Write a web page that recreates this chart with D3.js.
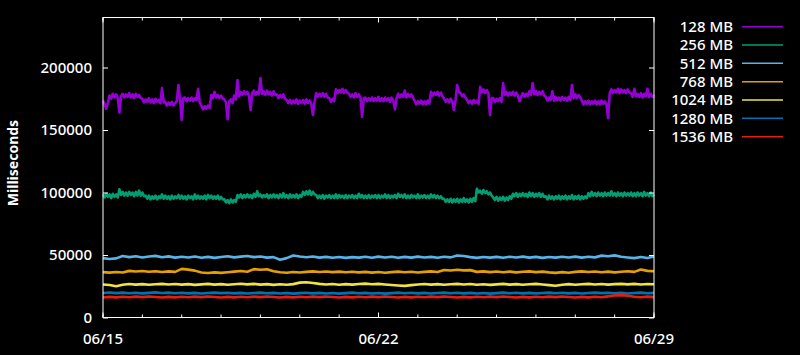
<!DOCTYPE html>
<html><head><meta charset="utf-8">
<script src="https://cdn.jsdelivr.net/npm/d3@7"></script>
<style>
html,body{margin:0;padding:0;background:#000;}
svg{display:block;}
text{font-family:"Noto Sans","DejaVu Sans",sans-serif;fill:#fff;}
</style></head>
<body><svg id="chart" width="800" height="355"></svg>
<script>
// ---- data (values in thousands of milliseconds) ----
const startDate = "2023-06-15T00:00:00Z";
const endDate = "2023-06-29T00:00:00Z";
const fineStepHours = 1;   // sampling of 128 MB / 256 MB series
const coarseStepHours = 4; // sampling of the other series
const seriesNames = ["128 MB","256 MB","512 MB","768 MB","1024 MB","1280 MB","1536 MB"];
const seriesColors = ["#9400d3","#009e73","#56b4e9","#e69f00","#f0e442","#0072b2","#e51e10"];
const yTickValues = [0,50000,100000,150000,200000];
const xTickLabels = ["06/15","06/22","06/29"];

const mb128 = [
173.5,170.5,167.0,172.0,177.5,175.0,179.0,176.0,178.5,175.5,164.0,177.0,179.0,176.0,178.5,176.5,179.5,176.0,178.5,175.5,
179.0,176.5,178.0,175.5,175.0,172.0,174.5,172.5,175.5,172.0,174.5,171.5,175.0,172.5,174.0,171.5,183.5,172.0,172.5,169.5,
172.0,170.0,172.5,169.5,171.5,173.0,186.0,174.5,158.0,175.5,176.0,173.0,175.5,173.5,176.0,173.0,175.5,174.0,183.0,172.0,
169.5,166.5,169.0,167.0,169.5,167.5,178.0,175.5,180.5,176.0,178.0,175.5,177.5,175.0,174.5,172.0,158.5,173.0,174.5,171.5,
177.5,174.5,190.0,177.0,180.5,178.0,181.0,178.5,180.5,177.5,166.0,179.5,181.5,178.0,180.5,178.5,191.5,179.0,181.0,178.0,
181.5,178.5,180.5,177.5,181.0,178.0,178.5,175.5,178.0,176.0,178.5,175.0,174.0,171.5,174.0,171.0,173.5,171.5,174.5,171.0,
173.5,171.5,174.0,171.0,174.5,171.5,173.5,171.0,162.0,172.5,179.5,176.5,179.0,177.0,179.5,176.5,179.0,176.0,175.5,172.5,
175.0,173.0,182.5,179.5,182.0,180.0,183.0,179.5,182.0,180.0,179.0,176.5,178.5,176.0,179.5,176.5,178.5,176.0,160.5,175.5,
176.0,173.0,175.5,173.5,176.0,173.0,175.5,173.5,176.5,173.0,175.5,173.0,176.0,173.5,175.5,172.5,176.0,173.5,166.5,175.0,
179.0,176.0,178.5,176.5,181.5,176.0,179.0,176.5,178.5,176.0,173.5,170.5,173.0,171.0,173.5,170.5,173.0,170.5,173.5,171.0,
180.5,177.5,180.0,178.0,180.5,177.5,180.0,177.0,175.0,172.5,174.5,172.0,175.0,172.5,166.0,174.0,186.0,180.5,179.5,177.0,
178.5,176.0,174.0,171.5,173.5,171.0,174.0,171.5,173.5,171.0,184.5,180.0,182.5,179.5,182.0,179.5,162.0,175.5,175.5,172.5,
175.0,173.0,175.5,172.5,187.5,178.0,180.5,177.5,180.0,178.0,180.5,177.5,180.0,177.5,173.0,176.5,179.5,176.5,179.0,177.0,
181.0,178.0,187.5,178.5,181.0,178.0,180.5,178.5,181.0,177.5,176.5,173.5,176.0,174.0,181.0,173.5,176.5,174.0,176.0,173.5,
176.5,174.0,176.0,173.5,176.5,174.0,186.0,175.5,178.5,175.5,178.0,176.0,173.5,170.5,173.0,171.0,173.5,170.5,173.0,171.0,
173.5,170.5,173.0,170.5,173.5,171.0,173.0,170.5,159.5,179.5,182.5,179.5,182.0,180.0,183.0,179.5,182.5,180.0,182.0,179.5,
182.5,180.0,179.5,176.5,183.0,177.0,179.0,176.5,179.5,176.0,179.0,177.0,183.0,176.5,179.0,176.5,178.0];

const mb256 = [
98.5,96.0,99.0,96.5,98.5,95.5,99.0,96.5,98.5,96.0,102.5,98.0,100.5,97.5,100.0,97.5,100.5,98.0,100.0,97.0,
100.5,97.5,101.5,97.5,100.0,97.0,97.5,95.0,97.5,94.5,97.0,95.0,97.5,94.5,97.0,95.5,98.5,95.0,97.5,95.0,
97.0,94.5,97.5,95.0,97.0,95.5,98.0,95.0,97.5,95.0,97.0,94.5,97.5,95.5,97.0,94.5,98.5,95.0,97.5,95.0,
97.0,95.0,97.5,94.5,98.0,95.5,97.5,95.0,97.0,95.0,97.5,94.5,96.5,94.5,94.5,92.0,94.0,91.5,94.5,92.0,
94.0,92.5,98.0,96.0,98.5,95.5,98.0,96.0,98.5,96.0,98.0,95.5,99.0,96.5,101.0,97.0,98.5,96.0,98.0,96.5,
98.5,95.5,98.0,96.0,98.5,96.0,98.0,95.5,98.5,96.0,99.5,96.0,98.0,95.5,98.5,96.0,98.0,96.0,98.5,95.5,
98.0,96.5,100.5,98.0,101.0,98.5,101.5,98.0,100.5,98.5,98.0,95.5,97.5,95.5,98.0,95.0,97.5,96.0,98.0,95.5,
97.5,95.5,98.5,95.5,98.0,96.0,97.5,95.5,98.0,95.5,97.5,96.0,98.0,95.5,97.5,95.5,99.0,96.0,98.0,95.5,
97.5,95.5,98.0,95.5,97.5,96.0,98.0,95.5,98.0,95.5,97.5,96.0,98.5,95.5,98.0,95.5,97.5,96.0,98.0,95.5,
99.0,96.5,98.0,96.0,98.5,95.5,97.5,95.5,98.0,96.0,97.5,95.5,98.5,95.5,97.5,96.0,98.0,95.5,97.5,95.5,
98.5,96.0,98.0,95.5,97.5,95.5,97.0,95.0,95.0,92.5,94.5,92.5,95.0,92.0,94.5,92.5,95.0,92.0,94.5,92.5,
95.5,92.5,94.5,92.0,95.0,92.5,95.5,93.0,103.0,100.0,101.5,99.0,102.0,99.5,101.0,98.5,100.0,97.5,96.0,94.0,
96.5,93.5,96.0,94.0,96.5,93.5,96.0,94.0,97.0,95.0,99.0,97.0,99.5,96.5,99.0,97.0,99.5,97.0,99.0,96.5,
100.0,97.0,99.5,96.5,99.0,97.0,99.5,96.5,99.0,96.5,97.0,94.5,97.5,95.0,97.0,94.5,97.0,95.0,97.5,94.5,
97.0,95.0,97.5,94.5,97.0,95.0,98.0,94.5,97.0,95.0,97.5,94.5,97.0,95.0,97.0,95.5,99.5,97.0,100.5,97.5,
99.5,97.0,100.0,97.5,99.5,97.0,100.0,97.5,99.5,97.5,101.0,97.5,99.5,97.0,100.0,97.5,99.5,97.0,100.0,97.5,
99.5,97.5,100.0,97.0,99.5,97.0,100.0,97.5,99.5,97.0,100.5,97.5,99.5,97.0,100.0,97.0,98.5];

const mb512 = [47.5,46.8,47.3,49.2,48.3,49.0,48.0,48.8,49.3,48.2,48.9,47.9,48.6,48.0,48.8,47.8,48.5,47.7,48.4,49.0,
48.1,48.7,49.2,48.3,48.8,47.9,48.3,46.2,47.5,49.6,48.8,48.2,48.8,47.9,48.5,47.8,48.4,47.7,48.3,47.9,
48.6,47.8,48.7,48.0,48.6,47.8,48.5,47.9,48.7,48.0,48.5,47.8,48.6,48.1,49.6,49.2,48.3,47.7,48.4,47.9,
48.5,47.8,48.6,48.0,48.7,47.9,48.5,47.7,48.4,47.9,48.6,48.0,48.7,47.9,48.6,48.1,49.5,49.0,49.7,48.6,
48.0,47.5,48.4,47.6,48.8];

const mb768 = [36.3,35.9,36.4,36.0,37.3,36.8,37.2,36.6,37.0,36.4,36.9,36.5,38.9,38.3,37.5,36.0,35.6,36.1,35.7,36.2,
36.7,37.2,36.6,38.7,38.2,38.6,37.0,36.2,35.8,36.4,36.0,36.5,36.9,36.4,36.8,36.3,36.7,36.2,36.6,36.1,
36.5,35.9,36.4,35.8,36.3,36.7,36.2,36.6,36.0,36.5,36.9,36.4,38.0,37.6,38.2,37.7,37.9,36.5,36.9,36.3,
36.8,36.2,36.7,36.1,36.6,36.9,36.3,36.7,36.1,35.7,36.3,35.8,36.5,36.9,36.4,36.8,36.2,36.7,36.1,36.6,
37.0,36.5,38.4,37.3,37.0];

const mb1024 = [26.4,26.0,25.0,26.2,26.8,26.3,26.7,26.2,26.6,26.9,26.4,26.8,26.3,26.7,26.1,26.5,26.9,26.3,26.7,26.2,
26.6,27.0,26.5,26.9,26.3,26.7,26.1,26.6,26.2,26.7,27.9,28.2,27.6,26.9,26.4,26.8,26.2,26.7,26.3,26.8,
27.1,26.6,26.9,26.4,26.0,25.6,25.3,25.9,26.4,26.8,26.3,26.7,26.2,26.6,26.9,26.4,26.8,26.2,26.6,26.1,
26.5,26.9,26.3,26.7,26.2,26.6,26.9,26.4,25.9,25.4,26.2,26.7,26.2,26.6,26.9,26.4,26.8,26.3,26.7,26.9,
26.5,26.9,26.4,26.8,26.6];

const mb1280 = [19.6,20.0,19.5,19.9,19.4,19.8,19.3,19.7,20.1,19.6,19.9,19.4,19.8,19.3,19.7,19.2,19.6,19.9,19.5,19.8,
19.3,19.7,19.2,19.6,19.9,19.4,19.7,19.2,19.6,19.1,19.5,19.8,19.3,19.7,19.2,19.6,19.1,19.5,19.9,19.4,
19.7,19.2,19.6,19.1,19.5,19.9,19.4,19.8,19.3,19.7,19.2,19.6,19.9,19.4,19.8,19.3,19.7,19.2,19.6,19.1,
19.5,19.9,19.4,19.8,19.3,19.7,19.2,19.6,19.9,19.4,19.8,19.3,19.7,19.2,19.6,19.9,19.5,19.8,19.3,19.7,
19.2,19.6,19.9,19.4,19.7];

const mb1536 = [16.0,16.5,16.1,16.6,16.2,16.7,16.3,16.8,16.4,16.0,16.5,16.1,16.6,16.2,16.7,16.3,16.8,16.4,16.0,16.5,
16.1,16.6,16.2,16.7,16.3,16.8,16.4,16.0,16.5,16.1,16.6,16.2,16.7,16.3,16.8,16.4,16.0,16.5,16.1,16.6,
16.2,16.7,16.3,16.8,16.4,16.0,16.5,16.1,16.6,16.2,16.7,16.3,16.8,16.4,16.0,16.5,16.1,16.6,16.2,16.7,
16.3,16.8,16.4,16.0,16.5,16.1,16.6,16.2,16.7,16.3,16.8,16.4,16.0,16.5,16.1,16.6,16.2,16.9,17.6,17.9,
17.4,16.6,16.2,16.7,16.3];

const seriesValues = [mb128, mb256, mb512, mb768, mb1024, mb1280, mb1536];
const seriesSteps = [fineStepHours, fineStepHours, coarseStepHours, coarseStepHours, coarseStepHours, coarseStepHours, coarseStepHours];
const valueUnit = 1000; // stored values are in thousands of ms

// ---- layout ----
const svg = d3.select("#chart");
svg.append("rect").attr("width",800).attr("height",355).attr("fill","#000");
const L = 103, R = 654, T = 17.5, B = 317.5;
const t0 = new Date(startDate), t1 = new Date(endDate);
const x = d3.scaleUtc().domain([t0, t1]).range([L, R]);
const y = d3.scaleLinear().domain([0, 240000]).range([B, T]);
const axisColor = "#ffffff";

// plot lines
const line = d3.line().x(d => x(d.t)).y(d => y(d.v));
seriesValues.forEach((vals, k) => {
  const pts = vals.map((v, i) => ({t: d3.utcHour.offset(t0, i * seriesSteps[k]), v: v * valueUnit}));
  svg.append("path").datum(pts)
    .attr("d", line).attr("fill","none")
    .attr("stroke", seriesColors[k]).attr("stroke-width", k < 2 ? 2.6 : 2.6)
    .attr("stroke-linejoin","round");
});

// frame
svg.append("rect").attr("x",L).attr("y",T).attr("width",R-L).attr("height",B-T)
  .attr("fill","none").attr("stroke",axisColor).attr("stroke-width",1);

// y ticks (left + mirrored right)
const yAxisL = d3.axisRight(y).tickValues(yTickValues).tickSize(5).tickFormat("");
const gyl = svg.append("g").attr("transform",`translate(${L},0)`).call(yAxisL);
const yAxisR = d3.axisLeft(y).tickValues(yTickValues).tickSize(5).tickFormat("");
const gyr = svg.append("g").attr("transform",`translate(${R},0)`).call(yAxisR);
[gyl,gyr].forEach(g=>{g.select(".domain").remove(); g.selectAll("line").attr("stroke",axisColor);});
// y tick labels
svg.append("g").selectAll("text").data(yTickValues).join("text")
  .attr("x", L - 11).attr("y", d => y(d)).attr("dy","0.36em")
  .attr("text-anchor","end").attr("font-size",15).style("font-weight","500").text(d => String(d));

// x ticks: daily minor, weekly major
const majorDates = xTickLabels.map((s,i)=>d3.utcDay.offset(t0, i*7));
const minorDates = d3.utcDay.range(t0, d3.utcDay.offset(t1,1));
function xTicks(yPos, dir){
  const g = svg.append("g");
  g.selectAll("line.minor").data(minorDates).join("line")
    .attr("x1",d=>x(d)).attr("x2",d=>x(d)).attr("y1",yPos).attr("y2",yPos+dir*3)
    .attr("stroke",axisColor);
  g.selectAll("line.major").data(majorDates).join("line")
    .attr("x1",d=>x(d)).attr("x2",d=>x(d)).attr("y1",yPos).attr("y2",yPos+dir*5)
    .attr("stroke",axisColor);
}
xTicks(B, -1);
xTicks(T, 1);
svg.append("g").selectAll("text").data(majorDates).join("text")
  .attr("x", d => x(d)).attr("y", 344)
  .attr("text-anchor","middle").attr("font-size",15).style("font-weight","500")
  .text((d,i) => xTickLabels[i]);

// y axis title
svg.append("text").attr("transform","translate(18,163) rotate(-90)")
  .attr("text-anchor","middle").attr("font-size",14).style("font-weight","bold")
  .text("Milliseconds");

// legend
const legY0 = 26.7, legDy = 18.33;
seriesNames.forEach((name,k)=>{
  const yy = legY0 + k*legDy;
  svg.append("text").attr("x",733).attr("y",yy).attr("dy","0.36em")
    .attr("text-anchor","end").attr("font-size",15).style("font-weight","500").text(name);
  svg.append("line").attr("x1",742).attr("x2",783).attr("y1",yy).attr("y2",yy)
    .attr("stroke",seriesColors[k]).attr("stroke-width",1.5);
});
</script></body></html>
